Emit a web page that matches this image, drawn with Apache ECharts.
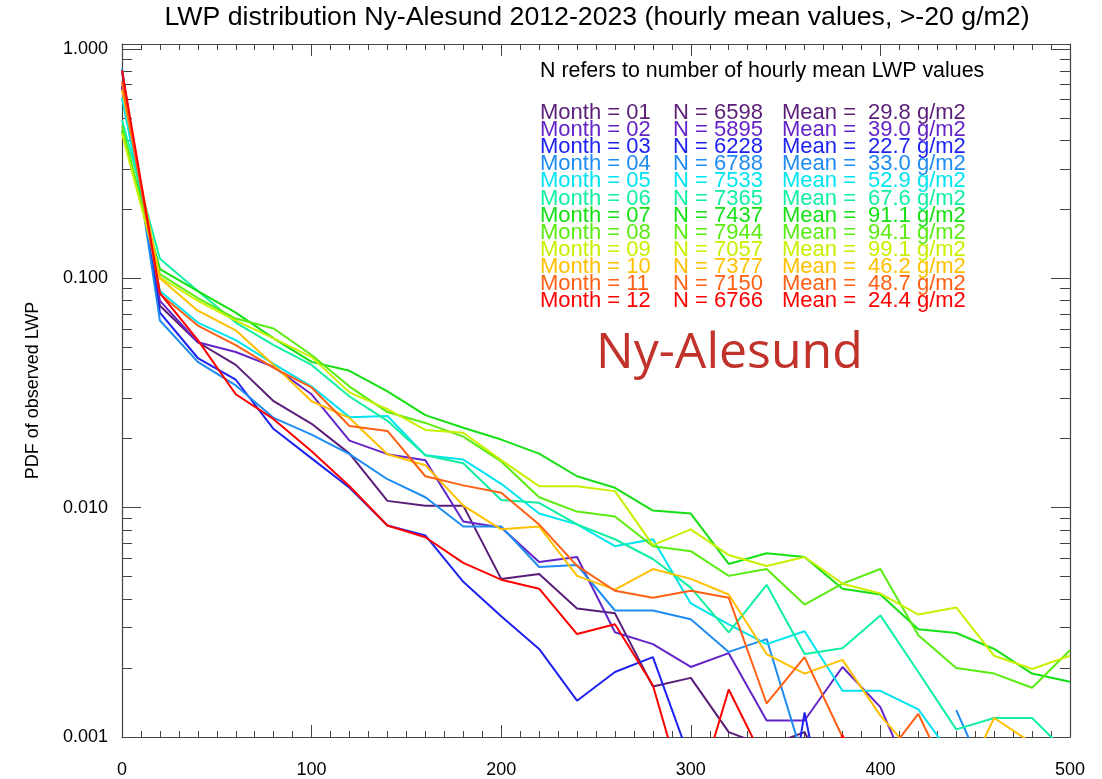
<!DOCTYPE html>
<html><head><meta charset="utf-8">
<script src="https://cdn.jsdelivr.net/npm/echarts@6/dist/echarts.min.js"></script>
<style>html,body{margin:0;padding:0;background:#fff}#c{width:1102px;height:779px}</style>
</head><body><div id="c"></div>
<script>
// LWP bin centres (g/m2)
const lwpBins = [0,20,40,60,80,100,120,140,160,180,200,220,240,260,280,300,320,340,360,380,400,420,440,460,480,500];
const monthLabels = ['01','02','03','04','05','06','07','08','09','10','11','12'];
const nValues = [6598,5895,6228,6788,7533,7365,7437,7944,7057,7377,7150,6766];
const meanValues = ['29.8','39.0','22.7','33.0','52.9','67.6','91.1','94.1','99.1','46.2','48.7','24.4'];
const monthColors = ['#5a1e78','#6424c8','#1e22f0','#1e8cf0','#00e4f0','#10f0a0','#14e014','#5aec10','#c8f000','#ffc000','#ff6014','#ff0000'];

// PDF of observed LWP per month
const pdf01 = [0.69,0.0759,0.0526,0.0419,0.0291,0.0232,0.0172,0.0107,0.0102,0.0102,0.00489,0.00514,0.00363,0.00346,0.00166,0.00181,0.00105,0.00091,0.00105,0.00051,0.0003,0.0003,0.0003,0.0003,0.0003,0.0003];
const pdf02 = [0.678,0.0797,0.0526,0.0477,0.0411,0.0312,0.0196,0.0171,0.0161,0.0087,0.0082,0.00579,0.00609,0.00286,0.00254,0.00202,0.00232,0.00118,0.00118,0.00202,0.00135,0.00056,0.0003,0.0003,0.0003,0.0003];
const pdf03 = [0.80,0.0708,0.0449,0.0361,0.0220,0.0164,0.0122,0.00836,0.00757,0.00475,0.00336,0.00242,0.00144,0.00192,0.00223,0.00078,0.0003,0.00012,0.00128,0.00019,0.0002,0.0002,0.0002,0.0002,0.0002,0.0002];
const pdf04 = [0.82,0.0654,0.0432,0.0341,0.0246,0.0208,0.0171,0.0133,0.0111,0.00828,0.00828,0.00551,0.00562,0.00356,0.00356,0.00326,0.00235,0.00267,0.00077,0.0003,0.0002,null,0.00131,0.00056,0.0002,0.0002];
const pdf05 = [0.612,0.0879,0.0641,0.0537,0.0423,0.0337,0.0248,0.0251,0.0169,0.0162,0.0127,0.00942,0.00845,0.00679,0.00728,0.00382,0.0031,0.00254,0.00289,0.00159,0.00159,0.00132,0.00078,0.0003,0.0003,0.0003];
const pdf06 = [0.489,0.1215,0.0879,0.0641,0.0511,0.0419,0.0305,0.0239,0.0169,0.0156,0.0108,0.0105,0.00845,0.00728,0.00597,0.00448,0.00286,0.00461,0.0023,0.00244,0.00339,0.00192,0.00108,0.00121,0.00121,0.00083];
const pdf07 = [0.441,0.1096,0.0879,0.0708,0.0547,0.0432,0.0395,0.0321,0.0253,0.0223,0.0198,0.0172,0.0137,0.0122,0.00971,0.00942,0.00568,0.00633,0.00609,0.00443,0.00418,0.00295,0.00284,0.00242,0.00189,0.00174];
const pdf08 = [0.459,0.1042,0.082,0.0667,0.0604,0.0463,0.0337,0.0261,0.0234,0.0204,0.0159,0.0111,0.00961,0.00915,0.00679,0.00646,0.00504,0.0054,0.00378,0.00466,0.0054,0.00278,0.002,0.00189,0.00164,0.00239];
const pdf09 = [0.428,0.101,0.0797,0.0654,0.0547,0.0453,0.0318,0.0269,0.0218,0.0212,0.0161,0.0124,0.0124,0.0118,0.00686,0.00804,0.00621,0.00557,0.00609,0.00466,0.00422,0.00342,0.00367,0.00226,0.00198,0.00226];
const pdf10 = [0.664,0.1,0.0722,0.0593,0.0419,0.0291,0.0246,0.0171,0.0153,0.0102,0.00804,0.00828,0.00504,0.00439,0.0054,0.00489,0.00418,0.0023,0.00189,0.00217,0.00124,0.0008,0.00055,0.00121,0.00094,0.0004];
const pdf11 = [0.72,0.0854,0.0622,0.0511,0.0407,0.0334,0.0227,0.0216,0.0137,0.0125,0.0116,0.00845,0.00557,0.00434,0.00405,0.00434,0.00405,0.0014,0.00223,0.001,0.00077,0.00126,0.00057,0.0003,0.0003,0.0003];
const pdf12 = [0.807,0.0862,0.0537,0.0312,0.0243,0.0176,0.0124,0.00836,0.00743,0.00574,0.00485,0.00443,0.00281,0.0031,0.00168,0.00045,0.00161,0.00075,0.0004,0.00102,0.0004,0.0002,0.0002,0.0002,0.0002,0.0002];

const yMajorTicks = [0.001,0.01,0.1,1];
const yMinorTicks = [0.002,0.003,0.004,0.005,0.006,0.007,0.008,0.009,0.02,0.03,0.04,0.05,0.06,0.07,0.08,0.09,0.2,0.3,0.4,0.5,0.6,0.7,0.8,0.9];

const allPdf = [pdf01,pdf02,pdf03,pdf04,pdf05,pdf06,pdf07,pdf08,pdf09,pdf10,pdf11,pdf12];
const FONT = 'Liberation Sans, Arial, Helvetica, sans-serif';
const AXC = '#444';

const chart = echarts.init(document.getElementById('c'), null, {renderer:'canvas'});

const series = allPdf.map((arr, i) => ({
  type:'line', name:'Month ' + monthLabels[i],
  xAxisIndex:0, yAxisIndex:0,
  data: arr.map((v, j) => [lwpBins[j], v]),
  showSymbol:false, symbol:'none', clip:true,
  lineStyle:{color:monthColors[i], width:2},
  itemStyle:{color:monthColors[i]},
  animation:false
}));

function xAx(pos, labels){
  return {type:'value', min:0, max:500, interval:100, position:pos,
    axisLine:{show:true, onZero:false, lineStyle:{color:AXC, width:1.2}},
    axisTick:{show:true, inside:true, length:12, lineStyle:{color:AXC, width:1}},
    minorTick:{show:true, splitNumber:10, length:6, lineStyle:{color:AXC, width:1}},
    splitLine:{show:false},
    axisLabel:{show:labels, fontSize:18, color:'#000', margin:24, fontFamily:FONT}
  };
}
function yAx(pos, major, showLine, labels){
  const o = {type:'log', logBase:10, min:0.001, max:1.05, position:pos,
    axisLine:{show:showLine, onZero:false, lineStyle:{color:AXC, width:1.2}},
    axisTick:{show:true, inside:true, length: major ? 19 : 10, customValues: major ? yMajorTicks : yMinorTicks, lineStyle:{color:AXC, width:1}},
    splitLine:{show:false},
    axisLabel:{show:labels, customValues: yMajorTicks, fontSize:18, color:'#000', margin:14, fontFamily:FONT,
      formatter: v => Number(v).toFixed(3)}
  };
  if (labels) {
    o.name = 'PDF of observed LWP';
    o.nameLocation = 'middle';
    o.nameGap = 80;
    o.nameRotate = 90;
    o.nameTextStyle = {fontSize:18, color:'#000', fontFamily:FONT};
  }
  return o;
}

const graphics = [];
graphics.push({type:'text', x:597, y:18, style:{text:'LWP distribution Ny-Alesund 2012-2023 (hourly mean values, >-20 g/m2)',
  fontSize:26.7, fontFamily:FONT, fill:'#000', align:'center', verticalAlign:'middle', textAlign:'center', textVerticalAlign:'middle'}});
graphics.push({type:'text', x:540, y:71, style:{text:'N refers to number of hourly mean LWP values',
  fontSize:21.4, fontFamily:FONT, fill:'#000', align:'left', verticalAlign:'middle', textVerticalAlign:'middle'}});
monthLabels.forEach((m, i) => {
  const y = 113 + i * 17.1;
  const st = {fontSize:22, fontFamily:FONT, fill:monthColors[i], align:'left', verticalAlign:'middle', textVerticalAlign:'middle'};
  graphics.push({type:'text', x:540, y:y, style:Object.assign({text:'Month = ' + m}, st)});
  graphics.push({type:'text', x:673, y:y, style:Object.assign({text:'N = ' + nValues[i]}, st)});
  graphics.push({type:'text', x:782, y:y, style:Object.assign({text:'Mean ='}, st)});
  graphics.push({type:'text', x:868, y:y, style:Object.assign({text:meanValues[i] + ' g/m2'}, st)});
});
graphics.push({type:'text', x:596, y:354, style:{text:'Ny-Alesund', fontSize:50, fontFamily:'Open Sans, Noto Sans, sans-serif',
  fill:'#c0322a', align:'left', verticalAlign:'middle', textVerticalAlign:'middle'}});

chart.setOption({
  animation:false,
  backgroundColor:'#fff',
  grid:{left:122, right:32, top:44, bottom:37, containLabel:false},
  xAxis:[xAx('bottom', true), xAx('top', false)],
  yAxis:[yAx('left', true, true, true), yAx('left', false, false, false), yAx('right', true, true, false), yAx('right', false, false, false)],
  series: series,
  graphic: graphics
});
</script></body></html>
